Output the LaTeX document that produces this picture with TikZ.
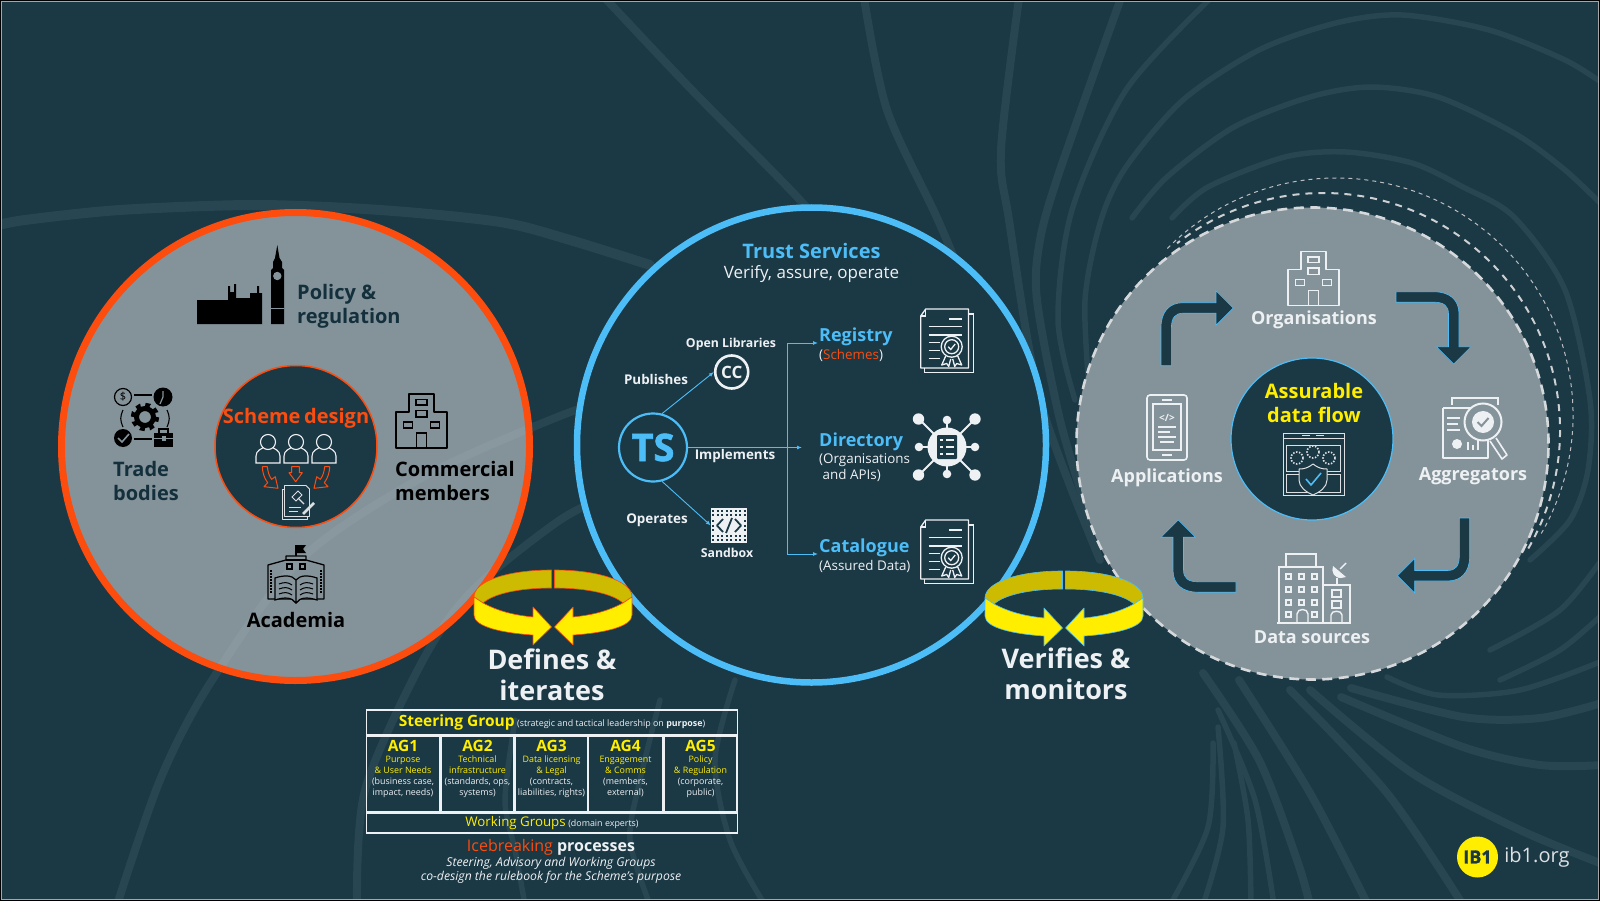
\documentclass[tikz,border=0pt]{standalone}
\usepackage{fontspec}
\setmainfont{Open Sans}
\newfontfamily\heavyfont[BoldFeatures={FakeBold=1.6}]{Open Sans}
\usetikzlibrary{positioning,arrows.meta,shapes.geometric}
\definecolor{ibdark}{HTML}{1B3845}
\definecolor{ibband}{HTML}{274651}
\definecolor{ibgray}{HTML}{CBD0D3}
\definecolor{ibmid}{HTML}{85939A}
\definecolor{ibink}{HTML}{14303C}
\definecolor{iborange}{HTML}{FC4C0E}
\definecolor{ibblue}{HTML}{4DBDF7}
\definecolor{ibyellow}{HTML}{FFEE00}
\definecolor{ibolive}{HTML}{CCBB00}
\definecolor{ibwhite}{HTML}{EEF1F3}
\definecolor{ibdash}{HTML}{D6D9DB}
\newcommand{\fsz}[1]{\fontsize{#1}{#1}\selectfont}
\tikzset{
  bgband/.style={draw=ibband, line width=8pt, line cap=round},
  thinband/.style={draw=ibband, line width=5.5pt, line cap=round},
  grayring/.style={circle, inner sep=0pt, minimum size=468pt, fill=ibgray, fill opacity=0.6},
  corering/.style={circle, inner sep=0pt, minimum size=162pt, fill=ibdark},
  linkarrow/.style={-{Latex[length=5pt,width=4pt]}, draw=ibblue, line width=0.9pt},
  cyclefill/.style={fill=ibdark, draw=ibblue, line width=0.6pt},
  darklabel/.style={font=\fsz{20}\bfseries, text=ibink, align=left, text height=15pt, text depth=4pt, inner sep=0pt, anchor=west},
  blacklabel/.style={darklabel, text=black},
  whitelabel/.style={font=\fsz{18}\bfseries, text=ibwhite, inner sep=0pt},
  tslabel/.style={font=\fsz{13.4}\bfseries, text=ibwhite, inner sep=0pt},
  bluehead/.style={font=\fsz{18}\bfseries, text=ibblue, inner sep=0pt, anchor=west},
  bluesub/.style={font=\fontsize{13.4}{15.5}\selectfont, text=ibwhite, inner sep=0pt, anchor=west, align=left},
  bigverb/.style={font=\fsz{27}\bfseries, text=ibwhite, inner sep=0pt},
  groupbox/.style={draw=ibwhite, line width=1.2pt, inner sep=0pt, minimum width=371pt},
  agcell/.style={draw=ibwhite, line width=1.2pt, inner sep=0pt, minimum height=75pt},
  agtext/.style={anchor=north, inner sep=0pt, align=center, font=\fontsize{8.9}{10.9}\selectfont, text=ibwhite},
  pics/building/.style={code={
    \draw[line join=round] (-12.3,-9) -- (-12.3,-27) -- (12.3,-27) -- (12.3,-9) -- (25.5,-9) -- (25.5,27) -- (-25.5,27) -- (-25.5,-9) -- cycle;
    \draw (-5.7,-21.6) rectangle (5.7,-16);
    \draw (-5.7,-10.5) rectangle (5.7,-4);
    \draw (-18,1) rectangle (-9,7);
    \draw (9,1) rectangle (18,7);
    \draw (-5,27) -- (-5,12) -- (5,12) -- (5,27);
  }},
  pics/certdoc/.style={code={
    \draw[line join=round] (-26,-25) -- (-21,-32) -- (21.7,-32) -- (21.7,27) -- (-26,27) -- cycle;
    \draw (-26,-25) -- (-21,-25) -- (-21,-32);
    \draw (21.7,-27) -- (26.7,-27) -- (26.7,31.7) -- (-22,31.7) -- (-22,27);
    \draw (2.7,-22) -- (15,-22);
    \draw (-18,-14.3) -- (15,-14.3);
    \draw (-18,-6) -- (15,-6);
    \draw (-18,1.7) -- (-7,1.7);
    \draw (-18,9.7) -- (-7,9.7);
    \draw (-18,17.3) -- (-7,17.3);
    \draw[fill=ibdark] (5,5.7) circle (10.5);
    \draw (5,5.7) circle (7);
    \draw (1.5,5.7) -- (4,8.5) -- (8.5,3);
    \draw[line join=round] (-1,15) -- (-5,24) -- (0,22.5) -- (2,25.5) -- (4,18);
    \draw[line join=round] (11,15) -- (15,24) -- (10,22.5) -- (8,25.5) -- (6,18);
  }},
  pics/bendarrow/.style={code={
    \path[cyclefill, line join=miter] (-5.2,0) -- (5.2,0) -- (5.2,-38) .. controls (5.2,-48) and (9,-52.5) .. (17,-52.5) -- (49.8,-52.5) -- (49.8,-40.5) -- (67,-57.7) -- (49.8,-75) -- (49.8,-63) -- (17,-63) .. controls (3,-63) and (-5.2,-54) .. (-5.2,-38) -- cycle;
  }},
  pics/ringhalf/.style={code={
    \path[fill=ibolive, draw=#1, line width=0.6pt, line join=round] (-1.5,-27) .. controls (-45,-27) and (-79,-16) .. (-79,0) -- (-70,6) .. controls (-60,-3) and (-35,-9) .. (-1.5,-9) -- cycle;
    \path[fill=ibyellow, draw=#1, line width=0.6pt, line join=round] (-79,0) -- (-70,6) .. controls (-55,14) and (-40,18) .. (-20,20) -- (-20,10) -- (-1.5,30) -- (-20,48) -- (-20,38) .. controls (-50,36) and (-79,30) .. (-79,18) -- cycle;
  }}
}
\begin{document}
\begin{tikzpicture}[x=1pt,y=-1pt,>=Latex]
\useasboundingbox (0,0) rectangle (1600,901);
\fill[black] (0,0) rectangle (1600,901);
\fill[ibdark] (1.5,1.5) rectangle (1598.5,899.5);
\begin{scope}
\clip (2,2) rectangle (1598,899);
\draw[bgband,line width=10pt] plot[smooth] coordinates {(-5,226) (25,220) (120,210) (255,205) (380,210) (500,222) (570,240) (650,265)};
\draw[bgband] plot[smooth] coordinates {(605,-2) (689,87) (800,200) (840,250)};
\draw[bgband] plot[smooth] coordinates {(864,-2) (887,110) (938,220) (980,320)};
\draw[bgband] plot[smooth] coordinates {(1019,-2) (1001,150) (1009,220) (1040,400) (1100,560)};
\draw[bgband] plot[smooth] coordinates {(1121,-2) (1060,170) (1040,240) (1037,300) (1060,420) (1090,520)};
\draw[thinband] plot[smooth] coordinates {(1211,-2) (1126,90) (1072,210) (1058,320) (1075,400)};
\draw[thinband] plot[smooth] coordinates {(1090,400) (1085,300) (1101,220) (1126,167) (1183,100) (1259,50) (1336,23) (1402,15) (1489,30) (1565,60) (1605,85)};
\draw[thinband] plot[smooth] coordinates {(1132,218) (1167,177) (1234,127) (1310,97) (1371,87) (1438,97) (1514,133) (1565,170) (1605,208)};
\draw[thinband] plot[smooth] coordinates {(1172,218) (1208,187) (1285,157) (1346,152) (1412,163) (1463,187) (1514,217) (1565,290) (1590,400) (1588,470) (1570,520) (1530,560)};
\draw[thinband] plot[smooth] coordinates {(1490,650) (1560,610) (1605,555)};
\draw[thinband] plot[smooth] coordinates {(1500,680) (1560,650) (1605,612)};
\draw[thinband] plot[smooth] coordinates {(1387,677) (1438,695) (1520,690) (1605,660)};
\draw[bgband] plot[smooth] coordinates {(1351,688) (1463,717) (1540,718) (1605,702)};
\draw[bgband] plot[smooth] coordinates {(1341,697) (1463,747) (1540,765) (1605,765)};
\draw[bgband] plot[smooth] coordinates {(1310,690) (1412,773) (1520,830) (1605,865)};
\draw[bgband] plot[smooth] coordinates {(1290,690) (1387,793) (1463,905)};
\draw[bgband] plot[smooth] coordinates {(1239,680) (1310,793) (1368,905)};
\draw[bgband] plot[smooth] coordinates {(1203,673) (1259,760) (1297,860) (1310,905)};
\draw[thinband] plot[smooth] coordinates {(1218,710) (1255,800) (1274,905)};
\draw[thinband] plot[smooth] coordinates {(1234,743) (1248,820) (1251,905)};
\draw[thinband] plot[smooth] coordinates {(1218,727) (1223,827) (1203,905)};
\draw[thinband] plot[smooth] coordinates {(1213,743) (1208,827) (1170,905)};
\draw[bgband] plot[smooth] coordinates {(117,905) (160,780) (209,685) (300,560) (423,477) (560,416) (640,390)};
\draw[bgband] plot[smooth] coordinates {(357,905) (365,790) (423,660) (473,590) (560,520) (620,490)};
\draw[thinband] plot[smooth] coordinates {(515,720) (505,800) (515,850) (525,905)};
\draw[thinband] plot[smooth] coordinates {(660,700) (640,780) (630,840) (650,905)};
\draw[thinband] plot[smooth] coordinates {(735,680) (715,760) (730,840) (765,905)};
\end{scope}
\draw[draw=gray!70,line width=1pt] (1.5,1.5) rectangle (1598.5,899.5);

\node[grayring, draw=iborange, line width=7pt, draw opacity=1] (policyring) at (295.5,446.5) {};
\node[corering, draw=iborange, line width=1.5pt] (schemecore) at (296,446.5) {};

\node[ellipse, inner sep=0pt, minimum width=469pt, minimum height=475pt, fill=ibdark, draw=ibblue, line width=6.5pt] (trustring) at (811.5,445) {};

\draw[line width=1pt, draw=ibdash!70!gray, dash pattern=on 4pt off 4pt] (1336,415) ++(30:237) arc[start angle=30,end angle=-136,radius=237];
\draw[line width=2pt, draw=ibdash!90!gray, dash pattern=on 7pt off 6pt] (1323,430) ++(30:237) arc[start angle=30,end angle=-128,radius=237];
\node[circle, inner sep=0pt, minimum size=472pt, fill=ibdark] (flowbase) at (1312.5,443.5) {};
\node[grayring, minimum size=472pt, draw=ibdash, line width=2.6pt, draw opacity=1, dash pattern=on 10pt off 6.5pt] (flowring) at (1312.5,443.5) {};
\node[corering, draw=ibblue, line width=1.2pt] (flowcore) at (1312,439) {};

% policy side
\fill[black] (197,324) -- (197,300) -- (228,300) -- (228,286) -- (230,286) -- (230,292) -- (234,292) -- (234,284) -- (236,284) -- (236,298) -- (250,298) -- (250,293) -- (257,293) -- (257,286) -- (259,286) -- (259,293) -- (262,293) -- (262,324) -- cycle;
\fill[black] (271,324) -- (271,270) -- (273,268) -- (273,262) -- (275,258) -- (277.3,245) -- (279.5,258) -- (282,262) -- (282,268) -- (284,270) -- (284,324) -- cycle;
\fill[ibmid] (277.3,276) circle (4.2);
\draw[ibmid,line width=0.8pt] (271,308) -- (284,308);
\node[darklabel] (policytxt) at (297,294) {Policy \&};
\node[darklabel] (regtxt) at (297,318) {regulation};

\draw[black,line width=1.2pt] (123,397) circle (8.5);
\node[font=\fsz{11}, inner sep=0pt, text=black] (dollar) at (123,397) {\$};
\fill[black] (163,397) circle (9.5);
\draw[ibmid,line width=1.2pt] (163,391) -- (163,397) -- (160,404);
\fill[black] (123,438) circle (9);
\draw[ibmid,line width=1.6pt] (118,438) -- (122,442) -- (129,434);
\fill[black] (154,433) rectangle (173,447);
\draw[black,line width=1.2pt] (159,433) -- (159,429) -- (168,429) -- (168,433);
\draw[ibmid,line width=1pt] (154,438) -- (173,438);
\fill[ibmid] (161.5,435.5) rectangle (165.5,440.5);
\draw[black,line width=1.1pt] (134,395) -- (152,395);
\draw[black,line width=1.1pt] (123,410) .. controls (120,417) and (120,420) .. (123,427);
\draw[black,line width=1.1pt] (167,410) .. controls (170,417) and (170,420) .. (167,427);
\draw[black,line width=1.1pt] (134,439) -- (152,439);
\draw[black,line width=4.5pt,dash pattern=on 4.7pt off 4.7pt] (145,417) circle (12);
\draw[black,line width=5pt] (145,417) circle (8.5);
\node[darklabel] (tradetxt) at (113,471) {Trade};
\node[darklabel] (bodiestxt) at (113,495) {bodies};

\pic[black,line width=1.8pt] at (421.5,421) {building};
\node[blacklabel] (commtxt) at (395,470.5) {Commercial};
\node[blacklabel] (membtxt) at (395,494.5) {members};

\node[font=\fsz{20}\bfseries, text=iborange, inner sep=0pt] (schemetxt) at (296,418) {Scheme\hspace{-1.5pt} design};
\draw[ibwhite,line width=1.1pt,fill=ibdark] (256,463) -- (256,456) .. controls (256,450) and (262,449) .. (264,447) -- (272,447) .. controls (274,449) and (280,450) .. (280,456) -- (280,463) -- cycle;
\draw[ibwhite,line width=1.1pt,fill=ibdark] (268,442) circle (7.5);
\draw[ibwhite,line width=1.1pt,fill=ibdark] (284,463) -- (284,456) .. controls (284,450) and (290,449) .. (292,447) -- (300,447) .. controls (302,449) and (308,450) .. (308,456) -- (308,463) -- cycle;
\draw[ibwhite,line width=1.1pt,fill=ibdark] (296,442) circle (7.5);
\draw[ibwhite,line width=1.1pt,fill=ibdark] (312,463) -- (312,456) .. controls (312,450) and (318,449) .. (320,447) -- (328,447) .. controls (330,449) and (336,450) .. (336,456) -- (336,463) -- cycle;
\draw[ibwhite,line width=1.1pt,fill=ibdark] (324,442) circle (7.5);
\draw[iborange,line width=1pt,line join=round] (291.7,466.7) -- (299.3,466.7) -- (299.3,472.7) -- (302.3,472.7) -- (295.7,481.7) -- (289,472.7) -- (291.7,472.7) -- cycle;
\draw[iborange,line width=1pt,line join=round] (262.3,466.7) -- (267.3,466.7) .. controls (268,472) and (269,476) .. (271.7,479.3) -- (275.3,476.7) -- (278,488.3) -- (264,486.7) -- (267.7,482.7) .. controls (264,478) and (262.5,472) .. (262.3,466.7);
\draw[iborange,line width=1pt,line join=round] (329.7,466.7) -- (324.7,466.7) .. controls (324,472) and (323,476) .. (320.3,479.3) -- (316.7,476.7) -- (314,488.3) -- (328,486.7) -- (324.3,482.7) .. controls (328,478) and (329.5,472) .. (329.7,466.7);
\draw[ibwhite!85!gray,line width=0.8pt,line join=round] (284,489) -- (282,489) -- (282,519) -- (307,519) -- (307,516);
\draw[ibwhite!85!gray,line width=0.8pt,line join=round,fill=ibdark] (284.5,485.5) -- (306,485.5) -- (309.5,489) -- (309.5,516.5) -- (284.5,516.5) -- cycle;
\draw[ibwhite!85!gray,line width=1pt] (292,497) -- (298,491) -- (302,495) -- (296,501) -- cycle;
\draw[ibwhite!85!gray,line width=1.4pt] (298,498) -- (304,504);
\draw[ibwhite!85!gray,line width=0.7pt] (289,507) -- (301,507);
\draw[ibwhite!85!gray,line width=0.7pt] (289,511) -- (298,511);
\draw[ibwhite!85!gray,line width=2.5pt] (303,514) -- (314,503);

\draw[black,line width=1.3pt,line join=round] (268,565) -- (268,599) -- (292,599) -- (296,603) -- (300,599) -- (324,599) -- (324,565) -- (306,560) -- (306,556) -- (286,556) -- (286,560) -- cycle;
\draw[black,line width=1.3pt] (286,560) -- (306,560);
\draw[black,line width=1.3pt] (296,556) -- (296,545);
\fill[black] (296,545) -- (306,545) -- (303,549) -- (306,553) -- (296,553) -- cycle;
\draw[black,line width=1.2pt] (287,564) rectangle (292,569);
\draw[black,line width=1.2pt] (300,564) rectangle (305,569);
\draw[black,line width=1.2pt,fill=ibmid] (296,603) -- (296,580) .. controls (292,575) and (284,575) .. (275,578) -- (275,600) .. controls (284,597) and (292,597) .. (296,603) .. controls (300,597) and (308,597) .. (317,600) -- (317,578) .. controls (308,575) and (300,575) .. (296,580);
\draw[black,line width=1pt] (279,584) .. controls (284,582) and (288,582) .. (292,585);
\draw[black,line width=1pt] (279,589) .. controls (284,587) and (288,587) .. (292,590);
\draw[black,line width=1pt] (279,594) .. controls (284,592) and (288,592) .. (292,595);
\draw[black,line width=1pt] (313,584) .. controls (308,582) and (304,582) .. (300,585);
\draw[black,line width=1pt] (313,589) .. controls (308,587) and (304,587) .. (300,590);
\draw[black,line width=1pt] (313,594) .. controls (308,592) and (304,592) .. (300,595);
\draw[black,line width=2.5pt,dash pattern=on 1.5pt off 1.5pt] (271,570) -- (271,594);
\draw[black,line width=2.5pt,dash pattern=on 1.5pt off 1.5pt] (321,570) -- (321,594);
\node[blacklabel, anchor=center] (academiatxt) at (296,622) {Academia};

% trust services
\node[font=\fsz{20}\bfseries, text=ibblue, inner sep=0pt] (trusttxt) at (811.5,251) {Trust Services};
\node[font=\fsz{17}, text=ibwhite, inner sep=0pt] (verifytxt) at (811.5,274) {Verify, assure, operate};

\node[circle, draw=ibblue, line width=2.2pt, minimum size=68pt, inner sep=0pt, font=\fsz{38}\heavyfont\bfseries, text=ibblue] (ts) at (653,447.5) {TS};
\node[circle, draw=ibwhite, line width=2.6pt, minimum size=33pt, inner sep=0pt, font=\fsz{17}\bfseries, text=ibwhite] (cclib) at (731.7,372) {CC};
\node[fill=ibwhite, minimum width=36pt, minimum height=35pt, inner sep=0pt] (sandbox) at (729,525.5) {};
\draw[ibdark,line width=1.8pt,dash pattern=on 2pt off 2.5pt] (712,511) -- (746,511);
\draw[ibdark,line width=1.8pt,dash pattern=on 2pt off 2.5pt] (712,515) -- (746,515);
\draw[ibdark,line width=1.8pt,dash pattern=on 2pt off 2.5pt] (712,536) -- (746,536);
\draw[ibdark,line width=1.8pt,dash pattern=on 2pt off 2.5pt] (712,540) -- (746,540);
\draw[ibdark,line width=1.8pt,dash pattern=on 2pt off 2.5pt] (713,520) -- (713,532);
\draw[ibdark,line width=1.8pt,dash pattern=on 2pt off 2.5pt] (745,520) -- (745,532);
\draw[ibdark,line width=1.8pt,line join=round] (723,519) -- (717,525.5) -- (723,532);
\draw[ibdark,line width=1.8pt,line join=round] (735,519) -- (741,525.5) -- (735,532);
\draw[ibdark,line width=1.8pt] (732,518) -- (726,533);

\node[tslabel,font=\fsz{12.3}\bfseries] (opentxt) at (731,344) {Open Libraries};
\node[tslabel] (pubtxt) at (656,379) {Publishes};
\node[tslabel] (impltxt) at (735,456.5) {Implements};
\node[tslabel] (opertxt) at (657,520) {Operates};
\node[tslabel,font=\fsz{12.3}\bfseries] (sandtxt) at (727,553) {Sandbox};

\coordinate (implend) at (802,447.5);
\coordinate (branchtop) at (787,343);
\coordinate (branchbot) at (787,554);
\coordinate (regend) at (818,343);
\coordinate (catend) at (818,554);
\draw[linkarrow] (ts.75) -- (cclib.west);
\draw[linkarrow] (ts.285) -- (sandbox.west);
\draw[linkarrow] (ts.east) -- (implend);
\draw[linkarrow] (branchbot) -- (branchtop) -- (regend);
\draw[linkarrow] (branchtop) -- (branchbot) -- (catend);

\node[bluehead] (regtitle) at (819,337) {Registry};
\node[bluesub] (regsub) at (819,355) {(\textcolor{iborange}{Schemes})};
\node[bluehead] (dirtitle) at (819,442) {Directory};
\node[bluesub] (dirsub) at (819,467.5) {(Organisations\\\hspace{3.5pt}and APIs)};
\node[bluehead] (cattitle) at (819,548) {Catalogue};
\node[bluesub] (catsub) at (819,566) {(Assured Data)};

\pic[ibwhite,line width=1.3pt] at (946.7,341) {certdoc};
\pic[ibwhite,line width=1.3pt] at (946.7,552) {certdoc};

\draw[ibwhite,line width=1.8pt] (919,419) -- (975,475);
\draw[ibwhite,line width=1.8pt] (975,419) -- (919,475);
\draw[ibwhite,line width=1.8pt] (947,420) -- (947,474);
\draw[ibwhite,line width=1.8pt] (919,447) -- (975,447);
\fill[ibwhite] (947,447) circle (19.5);
\fill[ibwhite] (918.5,419) circle (5.7);
\fill[ibwhite] (975,419) circle (5.7);
\fill[ibwhite] (918.5,475) circle (5.7);
\fill[ibwhite] (975,475) circle (5.7);
\fill[ibwhite] (947,420) circle (4.3);
\fill[ibwhite] (947,474) circle (4.3);
\fill[ibwhite] (919,447) circle (4.3);
\fill[ibwhite] (975,447) circle (4.3);
\fill[ibdark,rounded corners=1pt] (937,435) rectangle (957,459);
\draw[ibwhite,line width=1.5pt] (940,440) -- (943,440);
\draw[ibwhite,line width=1.5pt] (946,440) -- (954,440);
\draw[ibwhite,line width=1.5pt] (940,447) -- (943,447);
\draw[ibwhite,line width=1.5pt] (946,447) -- (954,447);
\draw[ibwhite,line width=1.5pt] (940,454) -- (943,454);
\draw[ibwhite,line width=1.5pt] (946,454) -- (954,454);

% data flow side
\pic at (1166.2,365.7) {bendarrow};
\pic[rotate=-90] at (1396,297) {bendarrow};
\pic[rotate=180] at (1464.5,518) {bendarrow};
\pic[rotate=90] at (1236,587) {bendarrow};

\pic[ibwhite,line width=1.8pt] at (1313.5,278.5) {building};
\node[whitelabel] (orgtxt) at (1314,320) {Organisations};

\draw[ibwhite,line width=1.6pt,rounded corners=3pt] (1147,395) rectangle (1187,460);
\draw[ibwhite,line width=1.4pt] (1153,404) rectangle (1181,450);
\draw[ibwhite,line width=1.4pt] (1162,400) -- (1172,400);
\draw[ibwhite,line width=1.4pt] (1162,455) -- (1172,455);
\node[font=\fsz{10}\bfseries, text=ibwhite, inner sep=0pt] (codetag) at (1167,418) {</>};
\draw[ibwhite,line width=1.2pt] (1158,427) -- (1176,427);
\draw[ibwhite,line width=1.2pt] (1158,432) -- (1170,432);
\draw[ibwhite,line width=1.2pt] (1158,437) -- (1176,437);
\draw[ibwhite,line width=1.2pt] (1160,442) -- (1174,442);
\node[whitelabel] (apptxt) at (1167,478) {Applications};

\draw[ibwhite,line width=1.8pt] (1452,405) -- (1452,398) -- (1498,398) -- (1498,405);
\draw[ibwhite,line width=2.2pt,line join=round] (1443,408) -- (1482,408);
\draw[ibwhite,line width=2.2pt,line join=round] (1443,408) -- (1443,458) -- (1488,458) -- (1488,440);
\fill[ibwhite] (1457,444) circle (5);
\draw[ibwhite,line width=1.6pt] (1447,418) -- (1460,418);
\draw[ibwhite,line width=1.6pt] (1447,424) -- (1458,424);
\draw[ibwhite,line width=1.6pt] (1447,430) -- (1460,430);
\draw[ibwhite,line width=1.6pt] (1468,450) -- (1468,442);
\draw[ibwhite,line width=1.6pt] (1473,450) -- (1473,445);
\draw[ibwhite,line width=1.6pt] (1478,450) -- (1478,440);
\draw[ibwhite,line width=2pt,fill=ibmid] (1483,422) circle (18.5);
\fill[ibwhite] (1483,422) circle (11);
\draw[ibmid,line width=2pt] (1477.5,422) -- (1481.5,426) -- (1488.5,418);
\draw[ibwhite,line width=1.6pt,line join=round] (1490,441) -- (1502,459) -- (1507,455) -- (1496,438);
\node[whitelabel] (aggtxt) at (1473,476) {Aggregators};

\draw[ibwhite,line width=1.7pt] (1279,623) -- (1279,567) -- (1323,567) -- (1323,623);
\draw[ibwhite,line width=1.7pt] (1286,567) -- (1286,554) -- (1316,554) -- (1316,567);
\draw[ibwhite,line width=1.7pt] (1277,623) -- (1351,623);
\draw[ibwhite,line width=1.7pt] (1323,585) -- (1350,585) -- (1350,623);
\draw[ibwhite,line width=1.4pt] (1286,574) rectangle (1291,579);
\draw[ibwhite,line width=1.4pt] (1299,574) rectangle (1304,579);
\draw[ibwhite,line width=1.4pt] (1312,574) rectangle (1317,579);
\draw[ibwhite,line width=1.4pt] (1286,587) rectangle (1291,592);
\draw[ibwhite,line width=1.4pt] (1299,587) rectangle (1304,592);
\draw[ibwhite,line width=1.4pt] (1312,587) rectangle (1317,592);
\draw[ibwhite,line width=1.4pt] (1286,600) rectangle (1291,605);
\draw[ibwhite,line width=1.4pt] (1299,600) rectangle (1304,605);
\draw[ibwhite,line width=1.4pt] (1312,600) rectangle (1317,605);
\draw[ibwhite,line width=1.4pt] (1286,612) rectangle (1291,617);
\draw[ibwhite,line width=1.4pt] (1312,612) rectangle (1317,617);
\draw[ibwhite,line width=1.4pt] (1297,623) -- (1297,614) .. controls (1297,608) and (1308,608) .. (1308,614) -- (1308,623);
\draw[ibwhite,line width=1.4pt] (1332,590) rectangle (1341,597);
\draw[ibwhite,line width=1.4pt] (1332,601) rectangle (1341,608);
\draw[ibwhite,line width=1.4pt] (1331,623) -- (1331,615) .. controls (1331,610) and (1342,610) .. (1342,615) -- (1342,623);
\draw[ibwhite,line width=1.6pt] (1337,585) -- (1337,578);
\fill[ibwhite] (1333,566) .. controls (1331,572) and (1334,578) .. (1341,578) -- (1346,577) -- cycle;
\draw[ibwhite,line width=1.4pt] (1340,569) -- (1346,563);
\node[whitelabel] (srctxt) at (1312,637) {Data sources};

\node[font=\fontsize{20}{24}\selectfont\bfseries, text=ibyellow, inner sep=0pt, align=center] (flowtxt) at (1314,403) {Assurable\\data flow};
\draw[ibwhite!85!gray,line width=0.8pt] (1283,433) rectangle (1344,495);
\draw[ibwhite!85!gray,line width=0.8pt] (1283,438) -- (1344,438);
\draw[ibwhite!85!gray,line width=0.8pt] (1286,445) rectangle (1340,471);
\draw[ibwhite!85!gray,line width=0.8pt] (1286,474) rectangle (1340,492);
\draw[ibwhite!85!gray,line width=1.3pt] (1302,435.5) -- (1310,435.5);
\draw[ibwhite!85!gray,line width=1.3pt] (1316,435.5) -- (1324,435.5);
\draw[ibwhite!85!gray,line width=1.6pt,dash pattern=on 1.5pt off 1.5pt] (1297,458) circle (6);
\draw[ibwhite!85!gray,line width=1.6pt,dash pattern=on 1.5pt off 1.5pt] (1313,452) circle (6);
\draw[ibwhite!85!gray,line width=1.6pt,dash pattern=on 1.5pt off 1.5pt] (1329,458) circle (6);
\draw[ibwhite!85!gray,line width=1pt,fill=ibdark,line join=round] (1313,464) .. controls (1318,468) and (1322,469) .. (1327,469) -- (1327,480) .. controls (1327,487) and (1320,492) .. (1313,495) .. controls (1306,492) and (1299,487) .. (1299,480) -- (1299,469) .. controls (1304,469) and (1308,468) .. (1313,464);
\draw[ibblue,line width=1.6pt,line join=round] (1306,479) -- (1311,485) -- (1321,473);

% governance table
\node[groupbox, minimum height=25pt] (steerbox) at (552,722.5) {\raisebox{-3.5pt}{\textcolor{ibyellow}{\fsz{15.5}\bfseries Steering Group} \textcolor{ibwhite}{\fsz{8.9}(strategic and tactical leadership on \textbf{purpose})}}};
\node[agcell, minimum width=73pt] (ag1) at (403,774) {};
\node[agcell, minimum width=73pt] (ag2) at (477.5,774) {};
\node[agcell, minimum width=73pt] (ag3) at (551.5,774) {};
\node[agcell, minimum width=74pt] (ag4) at (625.5,774) {};
\node[agcell, minimum width=73pt] (ag5) at (700.5,774) {};
\node[groupbox, minimum height=20pt] (workbox) at (552,823) {\raisebox{-3pt}{\textcolor{ibyellow}{\fsz{13.3}Working Groups} \textcolor{ibwhite}{\fsz{8.9}(domain experts)}}};
\node[agtext] (ag1txt) at (ag1.north) [yshift=-4.5pt] {\textcolor{ibyellow}{\fontsize{15.5}{19}\selectfont\bfseries AG1}\\\textcolor{ibyellow}{Purpose}\\\textcolor{ibyellow}{\& User Needs}\\(business case,\\impact, needs)};
\node[agtext] (ag2txt) at (ag2.north) [yshift=-4.5pt] {\textcolor{ibyellow}{\fontsize{15.5}{19}\selectfont\bfseries AG2}\\\textcolor{ibyellow}{Technical}\\\textcolor{ibyellow}{infrastructure}\\(standards, ops,\\systems)};
\node[agtext] (ag3txt) at (ag3.north) [yshift=-4.5pt] {\textcolor{ibyellow}{\fontsize{15.5}{19}\selectfont\bfseries AG3}\\\textcolor{ibyellow}{Data licensing}\\\textcolor{ibyellow}{\& Legal}\\(contracts,\\liabilities, rights)};
\node[agtext] (ag4txt) at (ag4.north) [yshift=-4.5pt] {\textcolor{ibyellow}{\fontsize{15.5}{19}\selectfont\bfseries AG4}\\\textcolor{ibyellow}{Engagement}\\\textcolor{ibyellow}{\& Comms}\\(members,\\external)};
\node[agtext] (ag5txt) at (ag5.north) [yshift=-4.5pt] {\textcolor{ibyellow}{\fontsize{15.5}{19}\selectfont\bfseries AG5}\\\textcolor{ibyellow}{Policy}\\\textcolor{ibyellow}{\& Regulation}\\(corporate,\\public)};
\node[font=\fsz{16}\bfseries, inner sep=0pt, text=ibwhite] (icetxt) at (551,847) {\textcolor{iborange}{\mdseries Icebreaking} processes};
\node[font=\fontsize{12.2}{14.5}\selectfont\itshape, inner sep=0pt, text=ibwhite, align=center] (icesub) at (551,870.5) {Steering, Advisory and Working Groups\\co-design the rulebook for the Scheme’s purpose};

% rings
\pic at (553,597) {ringhalf=iborange};
\pic[xscale=-1] at (553,597) {ringhalf=iborange};
\pic at (1064,598) {ringhalf=ibblue};
\pic[xscale=-1] at (1064,598) {ringhalf=ibblue};
\node[bigverb] (defines) at (552,659) {Defines \&};
\node[bigverb] (iterates) at (552,690) {iterates};
\node[bigverb] (verifies) at (1066,658) {Verifies \&};
\node[bigverb] (monitors) at (1066,689) {monitors};

% logo
\node[circle, fill=ibyellow, minimum size=41pt, inner sep=0pt, font=\fsz{18}\heavyfont\bfseries, text=ibdark] (iblogo) at (1477.5,857) {IB1};
\node[font=\fsz{20}, text=ibwhite!85!gray, inner sep=0pt, anchor=west, right=6pt of iblogo] (iburl) {ib1.org};
\end{tikzpicture}
\end{document}
